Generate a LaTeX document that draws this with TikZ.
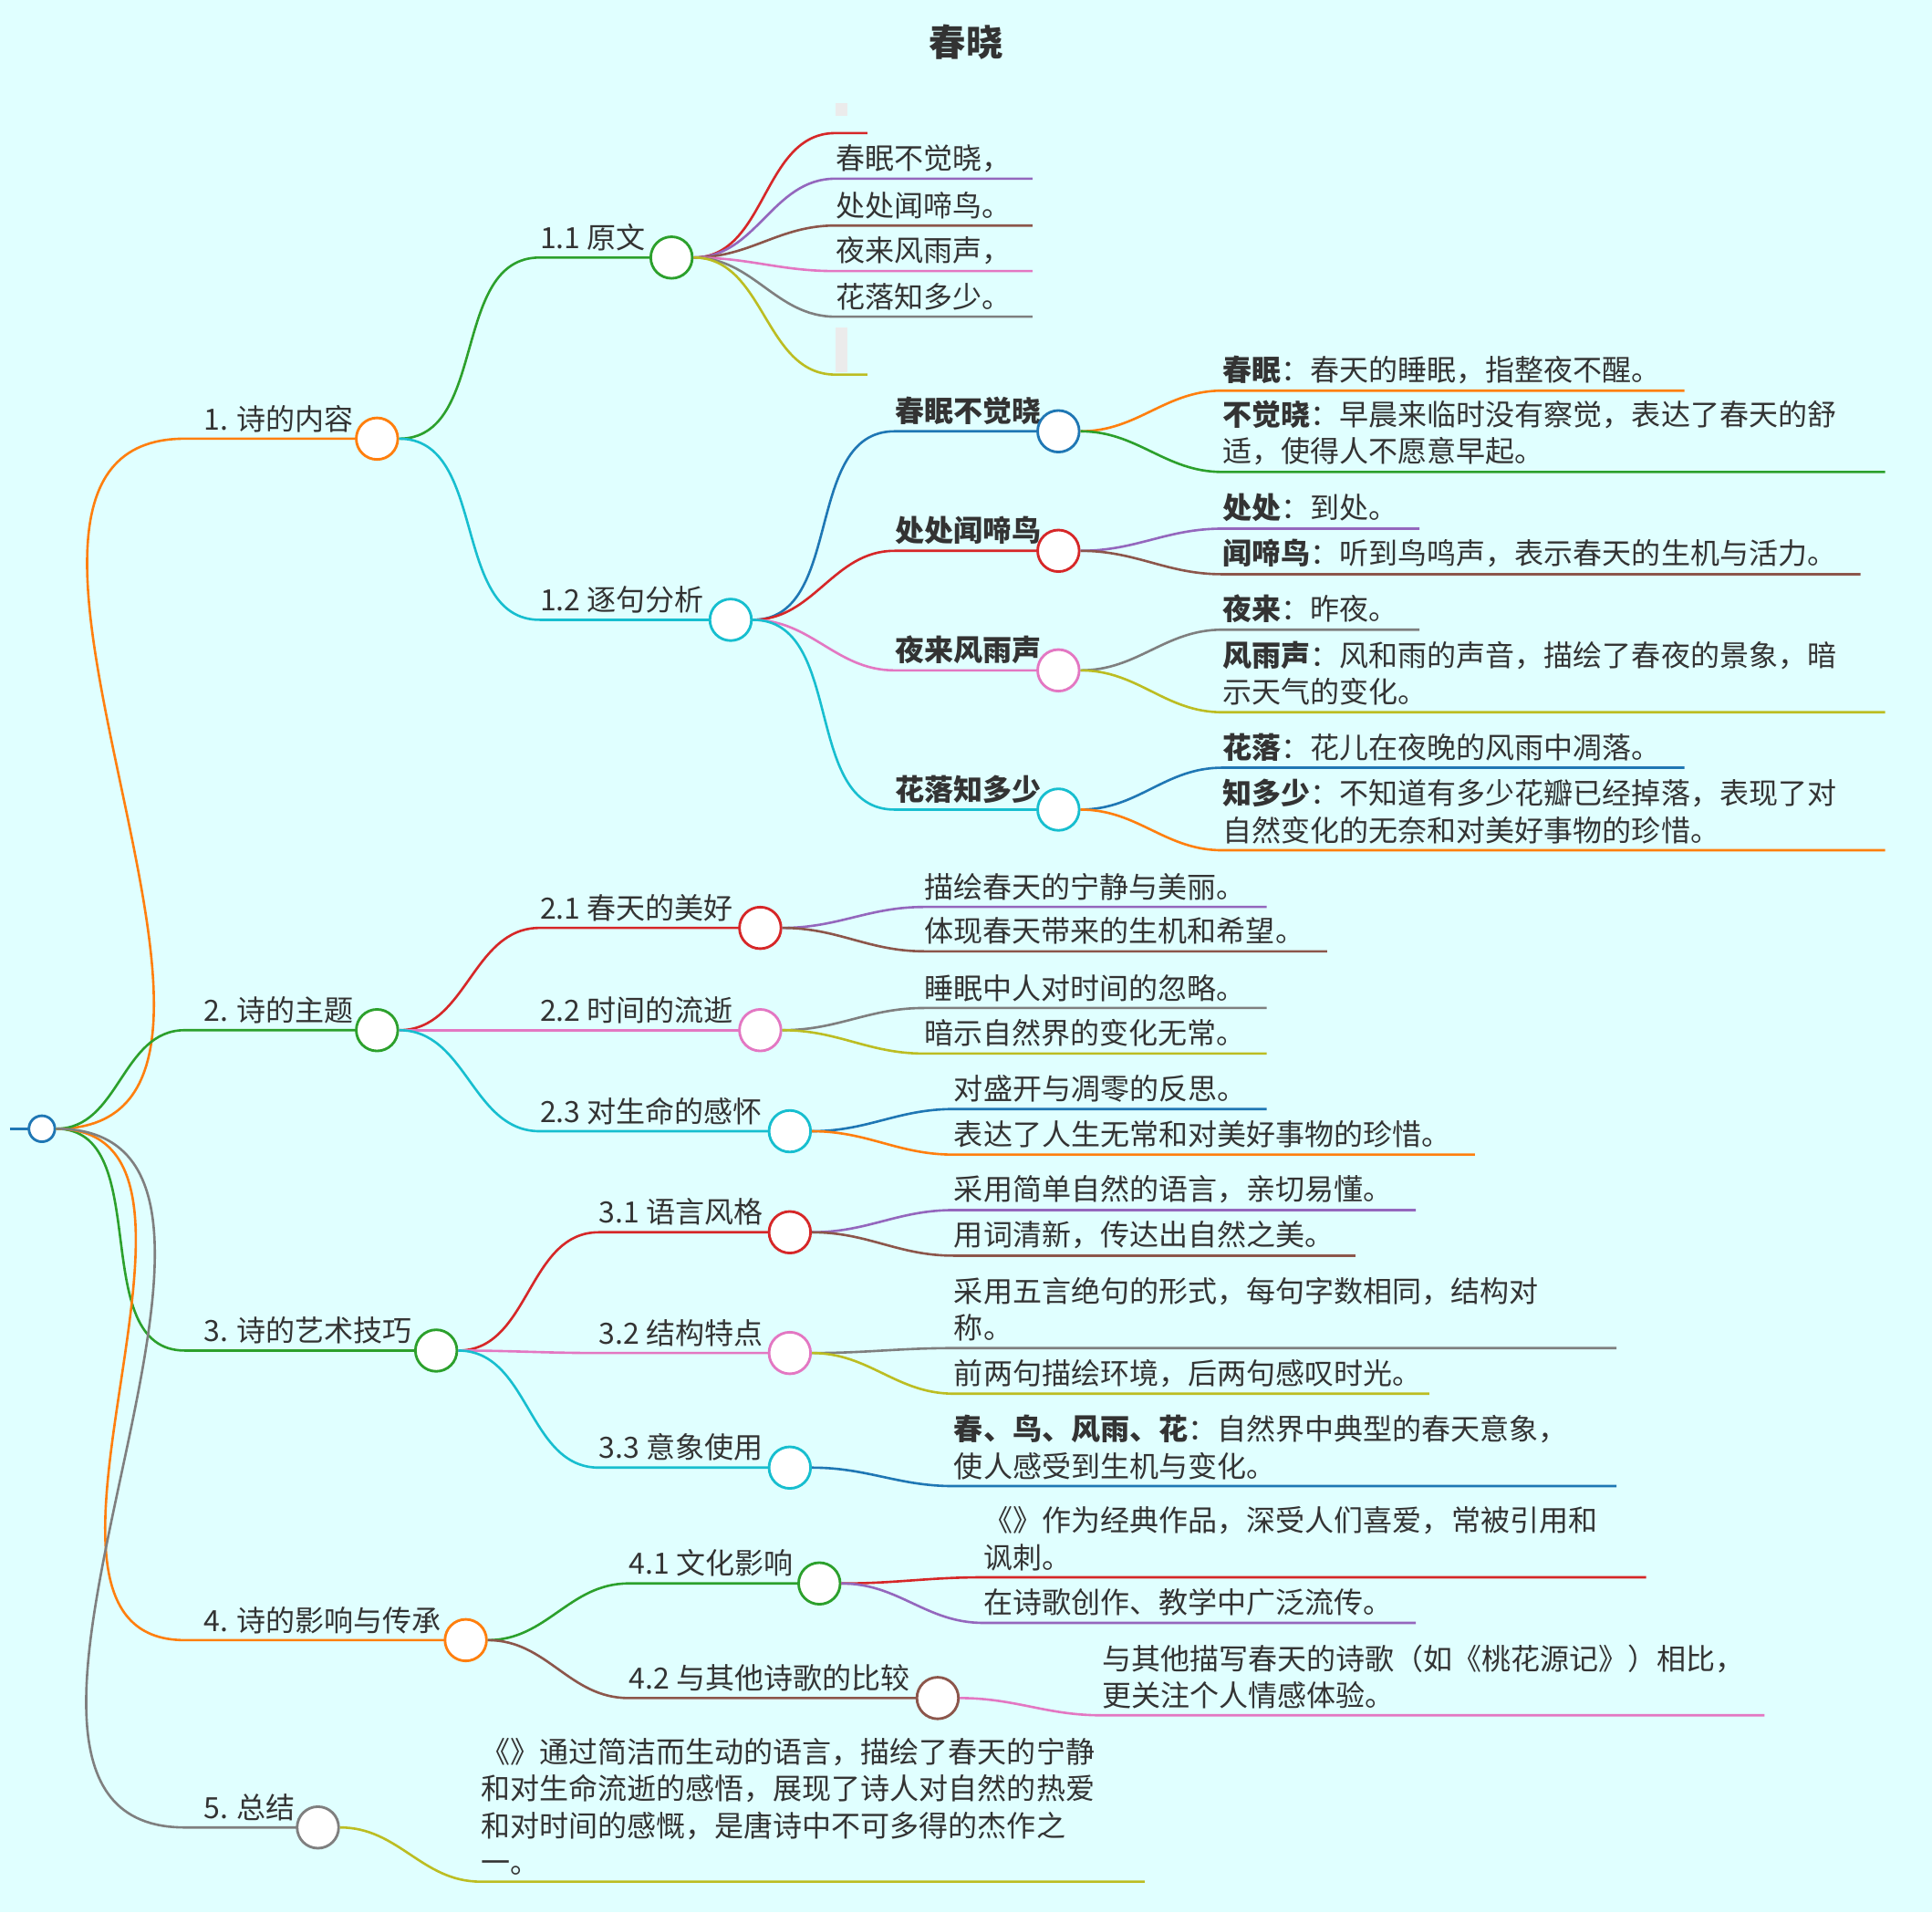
\documentclass[tikz,border=0pt]{standalone}
\usepackage{fontspec}
\setmainfont{Noto Sans CJK SC}
\definecolor{bgcyan}{HTML}{E0FFFF}
\definecolor{corange}{HTML}{FF7F0E}
\definecolor{cgreen}{HTML}{2CA02C}
\definecolor{cblue}{HTML}{1F77B4}
\definecolor{cred}{HTML}{D62728}
\definecolor{cpurple}{HTML}{9467BD}
\definecolor{cbrown}{HTML}{8C564B}
\definecolor{cpink}{HTML}{E377C2}
\definecolor{cgray}{HTML}{7F7F7F}
\definecolor{colive}{HTML}{BCBD22}
\definecolor{ccyan}{HTML}{17BECF}
\definecolor{ctext}{HTML}{333333}
\tikzset{
  hub/.style={circle, draw=#1, fill=white, line width=1.2pt, inner sep=0pt, minimum size=16\pgflinewidth},
  branch/.style={draw=#1, line width=1.1pt},
  label/.style={anchor=south west, inner sep=0pt, text=ctext, align=left, font=\fontsize{13.5}{17}\selectfont},
}
% branch: colour, parent, x, y, x end
\newcommand\branch[5]{\draw[branch=#1] (#2) to[out=0,in=180] (#3,#4) -- (#5,#4);}
\begin{document}
\begin{tikzpicture}[x=0.02cm,y=-0.02cm]
\fill[bgcyan] (0,0) rectangle (1568,1552);
\useasboundingbox (0,0) rectangle (1568,1552);

\node[font=\fontsize{17}{20}\selectfont\bfseries, text=ctext] (title) at (784,34) {春晓};

% root
\coordinate (r0) at (8,916);
\draw[branch=cblue] (r0) -- (26,916);
\node[hub=cblue, minimum size=12pt] (root) at (34,916) {};

% level 1
\branch{corange}{root.east}{150}{356}{298}
\branch{cgreen}{root.east}{150}{836}{298}
\branch{cgreen}{root.east}{150}{1096}{346}
\branch{corange}{root.east}{150}{1331}{370}
\branch{cgray}{root.east}{150}{1483}{250}
\node[label] (t1) at (165,351) {1. 诗的内容};
\node[label] (t2) at (165,831) {2. 诗的主题};
\node[label] (t3) at (165,1091) {3. 诗的艺术技巧};
\node[label] (t4) at (165,1326) {4. 诗的影响与传承};
\node[label] (t5) at (165,1478) {5. 总结};
\node[hub=corange] (h1) at (306,356) {};
\node[hub=cgreen] (h2) at (306,836) {};
\node[hub=cgreen] (h3) at (354,1096) {};
\node[hub=corange] (h4) at (378,1331) {};
\node[hub=cgray] (h5) at (258,1483) {};

% level 2
\branch{cgreen}{h1.east}{438}{209}{537}
\branch{ccyan}{h1.east}{438}{503}{585}
\branch{cred}{h2.east}{438}{753}{609}
\branch{cpink}{h2.east}{438}{836}{609}
\branch{ccyan}{h2.east}{438}{918}{633}
\branch{cred}{h3.east}{486}{1000}{633}
\branch{cpink}{h3.east}{486}{1098}{633}
\branch{ccyan}{h3.east}{486}{1191}{633}
\branch{cgreen}{h4.east}{510}{1285}{657}
\branch{cbrown}{h4.east}{510}{1378}{753}
\node[label] at (438,204) {1.1 原文};
\node[label] at (438,498) {1.2 逐句分析};
\node[label] at (438,748) {2.1 春天的美好};
\node[label] at (438,831) {2.2 时间的流逝};
\node[label] at (438,913) {2.3 对生命的感怀};
\node[label] at (486,995) {3.1 语言风格};
\node[label] at (486,1093) {3.2 结构特点};
\node[label] at (486,1186) {3.3 意象使用};
\node[label] at (510,1280) {4.1 文化影响};
\node[label] at (510,1373) {4.2 与其他诗歌的比较};
\node[hub=cgreen] (h11) at (545,209) {};
\node[hub=ccyan] (h12) at (593,503) {};
\node[hub=cred] (h21) at (617,753) {};
\node[hub=cpink] (h22) at (617,836) {};
\node[hub=ccyan] (h23) at (641,918) {};
\node[hub=cred] (h31) at (641,1000) {};
\node[hub=cpink] (h32) at (641,1098) {};
\node[hub=ccyan] (h33) at (641,1191) {};
\node[hub=cgreen] (h41) at (665,1285) {};
\node[hub=cbrown] (h42) at (761,1378) {};

% 1.1 poem lines
\branch{cred}{h11.east}{678}{108}{704}
\branch{cpurple}{h11.east}{678}{145}{838}
\branch{cbrown}{h11.east}{678}{183}{838}
\branch{cpink}{h11.east}{678}{220}{838}
\branch{cgray}{h11.east}{678}{257}{838}
\branch{colive}{h11.east}{678}{304}{704}
\fill[black!8] (678,84) rectangle (688,94);
\fill[black!8] (678,266) rectangle (688,302);
\node[label] at (678,140) {春眠不觉晓，};
\node[label] at (678,178) {处处闻啼鸟。};
\node[label] at (678,215) {夜来风雨声，};
\node[label] at (678,252) {花落知多少。};

% 1.2 lines
\branch{cblue}{h12.east}{726}{350}{851}
\branch{cred}{h12.east}{726}{447}{851}
\branch{cpink}{h12.east}{726}{544}{851}
\branch{ccyan}{h12.east}{726}{657}{851}
\node[label,font=\fontsize{13.5}{17}\selectfont\bfseries] at (726,345) {春眠不觉晓};
\node[label,font=\fontsize{13.5}{17}\selectfont\bfseries] at (726,442) {处处闻啼鸟};
\node[label,font=\fontsize{13.5}{17}\selectfont\bfseries] at (726,539) {夜来风雨声};
\node[label,font=\fontsize{13.5}{17}\selectfont\bfseries] at (726,652) {花落知多少};
\node[hub=cblue] (p1) at (859,350) {};
\node[hub=cred] (p2) at (859,447) {};
\node[hub=cpink] (p3) at (859,544) {};
\node[hub=ccyan] (p4) at (859,657) {};

\branch{corange}{p1.east}{992}{317}{1367}
\branch{cgreen}{p1.east}{992}{383}{1530}
\node[label] at (992,312) {\textbf{春眠}：春天的睡眠，指整夜不醒。};
\node[label] at (992,378) {\textbf{不觉晓}：早晨来临时没有察觉，表达了春天的舒\\适，使得人不愿意早起。};
\branch{cpurple}{p2.east}{992}{429}{1152}
\branch{cbrown}{p2.east}{992}{466}{1510}
\node[label] at (992,424) {\textbf{处处}：到处。};
\node[label] at (992,461) {\textbf{闻啼鸟}：听到鸟鸣声，表示春天的生机与活力。};
\branch{cgray}{p3.east}{992}{511}{1152}
\branch{colive}{p3.east}{992}{578}{1530}
\node[label] at (992,506) {\textbf{夜来}：昨夜。};
\node[label] at (992,573) {\textbf{风雨声}：风和雨的声音，描绘了春夜的景象，暗\\示天气的变化。};
\branch{cblue}{p4.east}{992}{623}{1367}
\branch{corange}{p4.east}{992}{690}{1530}
\node[label] at (992,618) {\textbf{花落}：花儿在夜晚的风雨中凋落。};
\node[label] at (992,685) {\textbf{知多少}：不知道有多少花瓣已经掉落，表现了对\\自然变化的无奈和对美好事物的珍惜。};

% level 3 leaves
\branch{cpurple}{h21.east}{750}{736}{1028}
\branch{cbrown}{h21.east}{750}{772}{1077}
\node[label] at (750,731) {描绘春天的宁静与美丽。};
\node[label] at (750,767) {体现春天带来的生机和希望。};
\branch{cgray}{h22.east}{750}{818}{1028}
\branch{colive}{h22.east}{750}{855}{1028}
\node[label] at (750,813) {睡眠中人对时间的忽略。};
\node[label] at (750,850) {暗示自然界的变化无常。};
\branch{cblue}{h23.east}{774}{900}{1028}
\branch{corange}{h23.east}{774}{937}{1197}
\node[label] at (774,895) {对盛开与凋零的反思。};
\node[label] at (774,932) {表达了人生无常和对美好事物的珍惜。};
\branch{cpurple}{h31.east}{774}{982}{1149}
\branch{cbrown}{h31.east}{774}{1019}{1100}
\node[label] at (774,977) {采用简单自然的语言，亲切易懂。};
\node[label] at (774,1014) {用词清新，传达出自然之美。};
\branch{cgray}{h32.east}{774}{1094}{1312}
\branch{colive}{h32.east}{774}{1131}{1160}
\node[label] at (774,1089) {采用五言绝句的形式，每句字数相同，结构对\\称。};
\node[label] at (774,1126) {前两句描绘环境，后两句感叹时光。};
\branch{cblue}{h33.east}{774}{1206}{1312}
\node[label] at (774,1201) {\textbf{春、鸟、风雨、花}：自然界中典型的春天意象，\\使人感受到生机与变化。};
\branch{cred}{h41.east}{798}{1280}{1336}
\branch{cpurple}{h41.east}{798}{1317}{1149}
\node[label] at (798,1275) {《》作为经典作品，深受人们喜爱，常被引用和\\讽刺。};
\node[label] at (798,1312) {在诗歌创作、教学中广泛流传。};
\branch{cpink}{h42.east}{894}{1392}{1432}
\node[label] at (894,1387) {与其他描写春天的诗歌（如《桃花源记》）相比，\\更关注个人情感体验。};
\branch{colive}{h5.east}{390}{1527}{929}
\node[label] at (390,1522) {《》通过简洁而生动的语言，描绘了春天的宁静\\和对生命流逝的感悟，展现了诗人对自然的热爱\\和对时间的感慨，是唐诗中不可多得的杰作之\\一。};
\end{tikzpicture}
\end{document}
